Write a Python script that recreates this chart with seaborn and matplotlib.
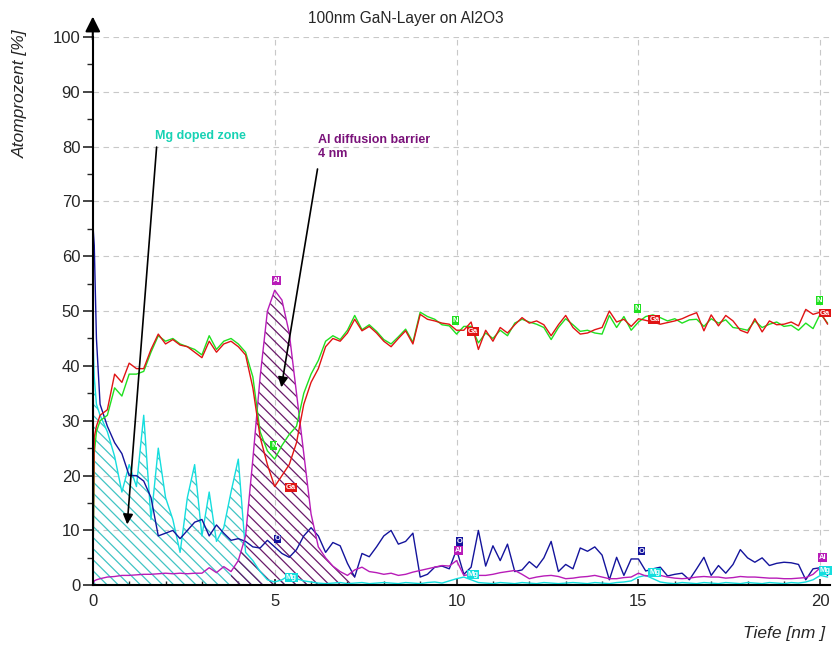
import numpy as np
import pandas as pd
import matplotlib
matplotlib.use('Agg')
import matplotlib.pyplot as plt
import seaborn as sns

# depth grid [nm]: a few extra points at the surface, then 0.2 nm steps
depth = np.round(np.concatenate([[0.0, 0.04, 0.1], np.arange(0.2, 20.21, 0.2)]), 2)

# atomic percent per element
ga = [0, 27, 29,
      31, 32, 38.5, 37, 40.5, 39.5, 39.5, 43, 45.8, 44,
      44.8, 43.8, 43.5, 42.5, 41.5, 44.5, 42.5, 44, 44.5, 43.5,
      42, 36, 27, 22, 18, 20, 22, 26, 33, 37,
      39.5, 43.5, 45, 44.5, 46, 48.5, 46.4, 47.2, 46, 44.5,
      43.5, 45, 46.4, 44, 49.4, 48.5, 48.2, 47.8, 47.6, 46.5,
      46.5, 48, 43, 46.5, 44.5, 47, 46, 47.5, 48.8, 47.8,
      48.2, 47.5, 45.5, 47.5, 49.2, 47, 45.8, 46, 46.6, 47,
      50, 48, 48.5, 47.2, 48.6, 48.3, 48, 47.6, 47.9, 48.2,
      48.6, 49.2, 49.7, 46.4, 49.3, 47.3, 49.2, 48.2, 46.5, 46,
      48.6, 46.2, 48.2, 47.5, 47.6, 48, 47.3, 50.3, 49.4, 49.8,
      47.6]
n = [0, 24, 28,
     30, 31, 36, 34.5, 38.5, 38.5, 39, 42.5, 45.5, 44.5,
     45, 44, 43.5, 43, 42, 45.5, 43, 44.5, 45, 44,
     42.5, 38, 28, 24.5, 23, 25.5, 27.5, 29, 35, 38.5,
     41, 44.5, 45.5, 44.8, 46.5, 49.2, 46.6, 47.5, 46.3, 44.8,
     44, 45.3, 46.7, 44.3, 49.8, 49, 48.5, 47.5, 47.3, 45.8,
     47.2, 47.2, 44.2, 46, 45, 46.5, 45.5, 47.8, 48.5, 48,
     47.6, 47, 44.8, 47, 48.6, 47.5, 46.3, 46.5, 46, 45.8,
     49.2, 47, 49, 46.5, 48, 49, 49.3, 48.8, 48.2, 48.6,
     47.8, 48.4, 48.5, 47.2, 48.6, 47.8, 48.4, 47, 46.8, 46.5,
     48.2, 47, 47.6, 48, 47.2, 47.4, 46.5, 47.8, 46.8, 49.5,
     47.8]
o = [66, 62, 45,
     33, 29, 26, 24, 20, 20, 19, 16, 9, 9.5,
     10, 8.5, 10, 11.5, 12, 9, 11, 9.5, 8.2, 8.5,
     8, 7, 6.8, 8.2, 7, 5.8, 5.1, 6.5, 9, 10.5,
     9, 6, 7.8, 7.2, 4, 1.5, 5.8, 5.2, 7, 9,
     10, 7.5, 8, 9.5, 1.5, 2, 3.3, 3.5, 3, 6.5,
     2, 3.3, 10, 3.5, 7.2, 4.5, 7.5, 2.5, 2.8, 4.3,
     3.2, 5, 8, 2.5, 3.8, 3, 6.8, 6.2, 7, 5.5,
     1, 5.1, 1.8, 4.8, 4.8, 2.6, 3, 3.3, 1.7, 2,
     2.2, 1, 3, 5.1, 1.8, 3.6, 2.2, 3.8, 6.5, 5,
     4.2, 5, 3.6, 4, 4.2, 4.1, 3.8, 1, 3, 3.2,
     1.8]
mg = [46, 38, 33,
      31, 28, 23.5, 17, 22, 18, 31, 12, 25, 16,
      12, 6, 16, 22, 9, 17, 8, 10.5, 17, 23,
      6, 4.5, 2.5, 1, 0.6, 1, 1.8, 1.2, 0.8, 0.6,
      0.4, 0.3, 0.4, 0.5, 0.3, 0.4, 0.5, 0.3, 0.4, 0.5,
      0.4, 0.3, 0.5, 0.4, 0.3, 0.5, 0.6, 0.4, 0.8, 1.2,
      1.5, 1, 0.5, 0.4, 0.3, 0.5, 0.4, 0.3, 0.5, 0.4,
      0.3, 0.5, 0.4, 0.3, 0.4, 0.5, 0.4, 0.3, 0.5, 0.4,
      0.3, 0.5, 0.6, 0.8, 1.5, 1.8, 1.2, 0.6, 0.4, 0.3,
      0.5, 0.4, 0.3, 0.5, 0.4, 0.3, 0.5, 0.4, 0.3, 0.5,
      0.4, 0.3, 0.5, 0.4, 0.3, 0.5, 0.4, 0.6, 1, 1.8,
      1.5]
al = [0, 0.8, 1,
      1.2, 1.5, 1.6, 1.8, 1.8, 1.9, 2, 2, 2.1, 2.2,
      2.1, 2.2, 2.1, 2.2, 2.2, 3.2, 2.3, 3.4, 2.5, 4.5,
      9, 23, 38, 50, 53.8, 52, 46, 35, 24, 13,
      7, 5, 3.5, 2.5, 1.8, 2.8, 3.3, 2.5, 2.3, 2,
      2.2, 1.8, 2, 2.4, 2.7, 3, 3.3, 3.6, 3.5, 4.5,
      1.8, 2, 1.8, 1.8, 2, 2.3, 2.5, 2.7, 2, 1.2,
      1.5, 1.7, 1.8, 1.6, 1.2, 1.3, 1.5, 1.6, 1.8, 1.5,
      1.2, 1.2, 1.4, 1.5, 2.2, 1.7, 1.8, 1.8, 1.5, 1.3,
      1.2, 1.3, 1.5, 1.6, 1.5, 1.5, 1.3, 1.4, 1.6, 1.5,
      1.5, 1.4, 1.3, 1.3, 1.2, 1.2, 1.3, 1.4, 2, 3.2,
      2.5]

elements = ['Mg', 'O', 'Al', 'N', 'Ga']
colors = {'Mg': '#14dede', 'O': '#14149c', 'Al': '#b81cb8', 'N': '#20e020', 'Ga': '#e01414'}
# where the little element tags sit along each curve
tag_depths = {'Mg': [5, 10, 15, 20], 'O': [5, 10, 15], 'Al': [5, 10, 20],
              'N': [5, 10, 15, 20], 'Ga': [5, 10, 15, 20]}
tag_offsets = {'Mg': (0.3, 0.2), 'O': (0.0, 0.8), 'Al': (-0.05, 1.2),
               'N': (-0.1, 1.8), 'Ga': (0.3, -0.8)}

sns.set_style('white')
plt.rcParams['font.family'] = ['Liberation Sans', 'DejaVu Sans']
plt.rcParams['hatch.linewidth'] = 0.9

fig = plt.figure(figsize=(8.36, 6.46), dpi=100)
ax = fig.add_axes([0.111, 0.094, 0.882, 0.849])

df = pd.DataFrame({'depth': depth, 'Mg': mg, 'O': o, 'Al': al, 'N': n, 'Ga': ga})
long_df = df.melt(id_vars='depth', var_name='element', value_name='percent')

# hatched areas: Mg doped zone and Al diffusion barrier
d = df['depth'].values
ax.fill_between(d, 0, df['Mg'], where=d <= 6.4, facecolor='none',
                edgecolor='#40c4c4', hatch='\\\\\\', linewidth=0)
ax.fill_between(d, 0, df['Al'], where=(d >= 3.8) & (d <= 7.2), facecolor='none',
                edgecolor='#6a1a6a', hatch='\\\\\\', linewidth=0)

sns.lineplot(data=long_df, x='depth', y='percent', hue='element', hue_order=elements,
             palette=colors, estimator=None, sort=False, legend=False,
             linewidth=1.0, ax=ax)

# little element tags sitting on the curves
for el in elements:
    dx, dy = tag_offsets[el]
    for xl in tag_depths[el]:
        i = int(np.argmin(np.abs(d - xl)))
        tx = min(d[i] + dx, 19.98)
        ax.text(tx, df[el].iloc[i] + dy, el, color='white', fontsize=5.5,
                fontweight='bold', ha='left', va='bottom', zorder=5,
                bbox=dict(boxstyle='square,pad=0.12', facecolor=colors[el],
                          edgecolor='none'))

ax.set_xlim(0, 20.27)
ax.set_ylim(0, 100)
ax.set_xticks([0, 5, 10, 15, 20])
ax.set_xticks(np.arange(0, 21, 1), minor=True)
ax.set_yticks(np.arange(0, 101, 10))
ax.set_yticks(np.arange(0, 101, 5), minor=True)
ax.set_xlabel('')
ax.set_ylabel('')
ax.grid(True, which='major', color='#c8c8c8', linestyle=(0, (5, 4)), linewidth=0.8)
ax.set_axisbelow(True)
ax.tick_params(axis='y', which='major', direction='out', length=7, width=1.2,
               labelsize=12, left=True, pad=2)
ax.tick_params(axis='y', which='minor', direction='out', length=4, width=1, left=True)
ax.tick_params(axis='x', which='major', direction='in', length=4, width=1.2,
               labelsize=12, bottom=True, pad=6)
ax.tick_params(axis='x', which='minor', direction='in', length=3, width=1, bottom=True)
for side in ['top', 'right']:
    ax.spines[side].set_visible(False)
for side in ['left', 'bottom']:
    ax.spines[side].set_color('black')
    ax.spines[side].set_linewidth(1.5)

# arrow head on top of the y axis
ax.annotate('', xy=(0, 1.042), xytext=(0, 0.99), xycoords='axes fraction',
            arrowprops=dict(arrowstyle='-|>,head_length=0.9,head_width=0.45',
                            color='black', lw=1.5), annotation_clip=False)

# annotations
ax.text(1.7, 82.0, 'Mg doped zone', color='#18d2b4', fontsize=9, fontweight='bold',
        ha='left', va='center')
ax.annotate('', xy=(0.94, 10.6), xytext=(1.76, 80.4),
            arrowprops=dict(arrowstyle='-|>,head_length=0.6,head_width=0.3',
                            color='black', lw=1.2))
ax.text(6.2, 82.2, 'Al diffusion barrier\n4 nm', color='#7a127a', fontsize=9,
        fontweight='bold', ha='left', va='top', linespacing=1.15)
ax.annotate('', xy=(5.17, 35.6), xytext=(6.19, 76.4),
            arrowprops=dict(arrowstyle='-|>,head_length=0.6,head_width=0.3',
                            color='black', lw=1.2))

fig.text(0.486, 0.972, '100nm GaN-Layer on Al2O3', ha='center', va='center', fontsize=11.2)
fig.text(0.024, 0.955, 'Atomprozent [%]', rotation=90, ha='center', va='top',
         fontsize=12.5, style='italic')
fig.text(0.987, 0.02, 'Tiefe [nm ]', ha='right', va='center', fontsize=12.5, style='italic')

fig.savefig('out.png', dpi=100, facecolor='white')
